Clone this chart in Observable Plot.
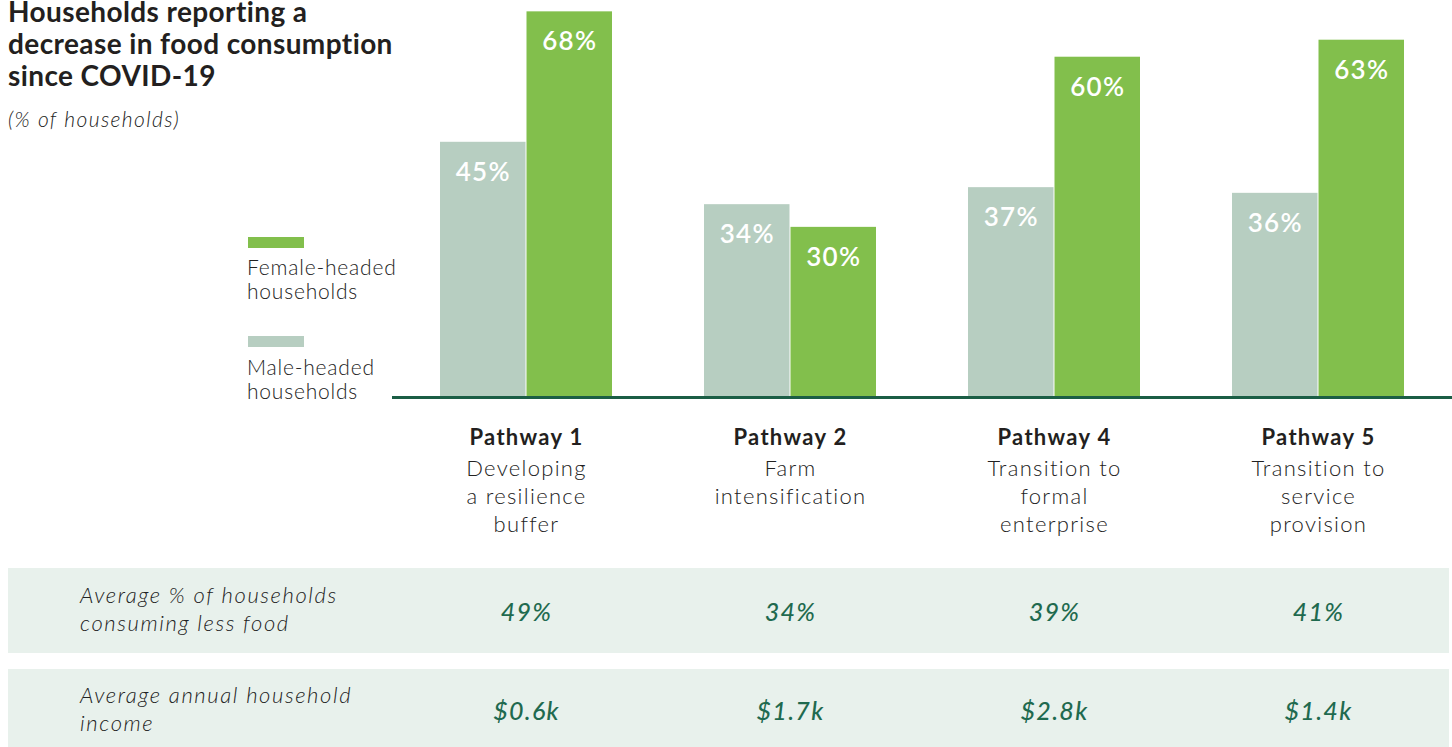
<!DOCTYPE html>
<html>
<head>
<meta charset="utf-8">
<script src="https://cdn.jsdelivr.net/npm/d3@7"></script>
<script src="https://cdn.jsdelivr.net/npm/@observablehq/plot@0.6"></script>
<style>
  html, body { margin: 0; padding: 0; background: #fff; }
  #wrap { position: relative; width: 1452px; height: 747px; overflow: hidden; font-family: Lato, "Open Sans", sans-serif; }
  .abs { position: absolute; white-space: nowrap; }
  .band { position: absolute; left: 8px; width: 1441px; background: #E8F1EC; }
  .title { left: 8px; top: -5px; font-size: 28px; line-height: 32px; font-weight: 700; color: #231f20; letter-spacing: 0.4px; }
  .subtitle { left: 8px; top: 107px; font-size: 21px; line-height: 24px; font-style: italic; font-weight: 300; color: #222; letter-spacing: 1.4px; }
  .swatch { position: absolute; left: 248px; width: 56px; height: 11px; }
  .legtext { left: 247px; font-size: 21px; line-height: 24px; color: #222; font-weight: 300; letter-spacing: 0.8px; }
  .rowlabel { left: 80px; font-size: 22px; line-height: 28px; font-style: italic; font-weight: 300; color: #222; letter-spacing: 1.6px; }
  #chart { position: absolute; left: 0; top: 0; }
  #chart svg text { letter-spacing: 1.3px; }
</style>
</head>
<body>
<div id="wrap">
  <div class="band" style="top:568px;height:85px;"></div>
  <div class="band" style="top:669px;height:90px;"></div>
  <div id="chart"></div>
  <div class="abs title">Households reporting a<br>decrease in food consumption<br>since COVID-19</div>
  <div class="abs subtitle">(% of households)</div>
  <div class="swatch" style="top:237px;background:#82BF4C;"></div>
  <div class="abs legtext" style="top:255px;">Female-headed<br>households</div>
  <div class="swatch" style="top:336px;background:#B7CEC1;"></div>
  <div class="abs legtext" style="top:355px;">Male-headed<br>households</div>
  <div class="abs rowlabel" style="top:581px;">Average % of households<br>consuming less food</div>
  <div class="abs rowlabel" style="top:681px;">Average annual household<br>income</div>
</div>
<script>
const pathways = ["Pathway 1", "Pathway 2", "Pathway 4", "Pathway 5"];
const descriptions = ["Developing\na resilience\nbuffer", "Farm\nintensification", "Transition to\nformal\nenterprise", "Transition to\nservice\nprovision"];
const maleValues = [45, 34, 37, 36];
const femaleValues = [68, 30, 60, 63];
const avgLessFood = [49, 34, 39, 41];
const avgIncome = [0.6, 1.7, 2.8, 1.4];

const male = pathways.map((p, i) => ({pathway: p, value: maleValues[i]}));
const female = pathways.map((p, i) => ({pathway: p, value: femaleValues[i]}));
const rows = pathways.map((p, i) => ({pathway: p, desc: descriptions[i], less: avgLessFood[i], income: avgIncome[i]}));

const W = 1452, H = 747, ML = 392, MR = 0, MT = 0, MB = 350;
const pi = 0.347, po = 0.174;
const step = (W - ML - MR) / (pathways.length - pi + 2 * po);
const bw = step * (1 - pi);
const half = bw / 2;

const green = "#82BF4C", grey = "#B7CEC1", dark = "#1F6A4F";

const chart = Plot.plot({
  width: W, height: H,
  marginLeft: ML, marginRight: MR, marginTop: MT, marginBottom: MB,
  style: {background: "transparent", fontFamily: "Lato, 'Open Sans', sans-serif", overflow: "visible"},
  x: {domain: pathways, paddingInner: pi, paddingOuter: po, axis: null},
  y: {domain: [0, 70], axis: null},
  marks: [
    Plot.barY(male, {x: "pathway", y: "value", fill: grey, insetRight: half}),
    Plot.barY(female, {x: "pathway", y: "value", fill: green, insetLeft: half}),
    Plot.ruleY([0], {stroke: "#1B5E45", strokeWidth: 3}),
    Plot.text(male, {x: "pathway", y: "value", text: d => d.value + "%", dx: -half / 2, dy: 30, fill: "white", fontSize: 26, fontWeight: 600, lineAnchor: "middle"}),
    Plot.text(female, {x: "pathway", y: "value", text: d => d.value + "%", dx: half / 2, dy: 30, fill: "white", fontSize: 26, fontWeight: 600, lineAnchor: "middle"}),
    Plot.text(rows, {x: "pathway", text: "pathway", frameAnchor: "bottom", dy: 40, fontSize: 22, fontWeight: 700, fill: "#231f20", lineAnchor: "middle"}),
    Plot.text(rows, {x: "pathway", text: "desc", frameAnchor: "bottom", dy: 59, fontSize: 22, fontWeight: 300, fill: "#222", lineAnchor: "top", lineHeight: 28 / 22}),
    Plot.text(rows, {x: "pathway", text: d => d.less + "%", frameAnchor: "bottom", dy: 215, fontSize: 25, fontStyle: "italic", fontWeight: 500, fill: dark, lineAnchor: "middle"}),
    Plot.text(rows, {x: "pathway", text: d => "$" + d.income.toFixed(1) + "k", frameAnchor: "bottom", dy: 314, fontSize: 25, fontStyle: "italic", fontWeight: 500, fill: dark, lineAnchor: "middle"})
  ]
});
document.getElementById("chart").appendChild(chart);
</script>
</body>
</html>
